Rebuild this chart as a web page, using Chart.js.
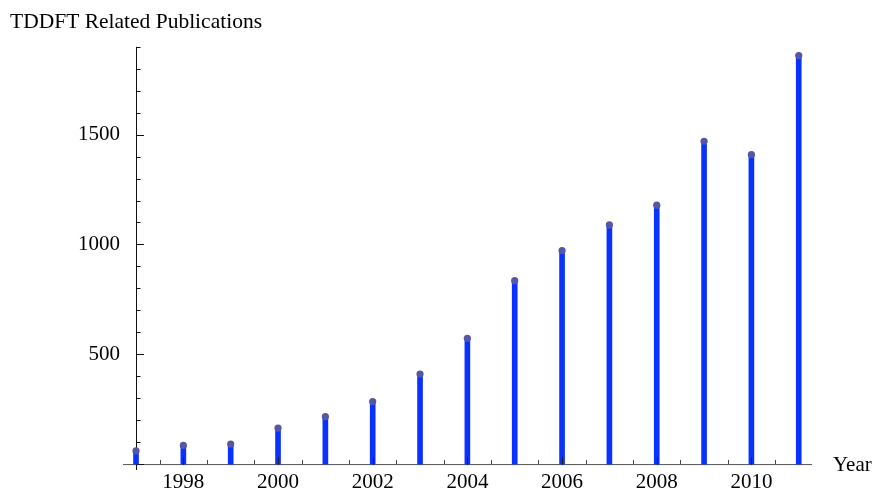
<!DOCTYPE html>
<html>
<head>
<meta charset="utf-8">
<script src="https://cdn.jsdelivr.net/npm/chart.js@4/dist/chart.umd.min.js"></script>
<style>
    html, body { margin: 0; padding: 0; background: #fff; }
    #wrap { width: 874px; height: 489px; }
</style>
</head>
<body>
<div id="wrap"><canvas id="chart"></canvas></div>
<script>
const years = [1997, 1998, 1999, 2000, 2001, 2002, 2003, 2004, 2005, 2006, 2007, 2008, 2009, 2010, 2011];
const publications = [60, 85, 91, 164, 216, 285, 410, 573, 835, 972, 1089, 1179, 1470, 1409, 1860];
const xTickYears = [1998, 2000, 2002, 2004, 2006, 2008, 2010];
const yTickValues = [500, 1000, 1500];

const SERIF = '"Liberation Serif", "DejaVu Serif", serif';
const STEM_COLOR = '#0a32ff';
const DOT_COLOR = '#5656a6';

const points = years.map((year, i) => ({ x: year, y: publications[i] }));

// Mathematica style axes: crossing at (1997, 0), ticks pointing inwards
const axesPlugin = {
    id: 'axes',
    beforeDatasetsDraw(chart) {
        const { ctx, chartArea, scales: { x, y } } = chart;
        const x0 = x.getPixelForValue(1997);
        const y0 = y.getPixelForValue(0);

        ctx.save();
        ctx.lineWidth = 1;

        ctx.strokeStyle = '#555';
        ctx.beginPath();
        ctx.moveTo(chartArea.left, y0 + 0.5);
        ctx.lineTo(chartArea.right, y0 + 0.5);
        ctx.stroke();

        ctx.strokeStyle = '#111';
        ctx.beginPath();
        ctx.moveTo(Math.round(x0) + 0.5, chartArea.top);
        ctx.lineTo(Math.round(x0) + 0.5, chartArea.bottom);
        ctx.stroke();

        // y ticks
        ctx.beginPath();
        for (let v = 0; v <= 1900; v += 100) {
            const py = Math.round(y.getPixelForValue(v)) + 0.5;
            const len = v % 500 === 0 ? 8 : 4.5;
            ctx.moveTo(Math.round(x0), py);
            ctx.lineTo(Math.round(x0) + len, py);
        }
        ctx.stroke();

        // x minor ticks
        ctx.strokeStyle = '#444';
        ctx.beginPath();
        for (let t = 1997.5; t <= 2011; t += 0.5) {
            if (t % 2 === 0) continue;
            const px = Math.round(x.getPixelForValue(t)) + 0.5;
            ctx.moveTo(px, y0);
            ctx.lineTo(px, y0 - 4);
        }
        ctx.stroke();
        ctx.restore();
    },
    afterDatasetsDraw(chart) {
        const { ctx, chartArea, scales: { x, y } } = chart;
        const y0 = y.getPixelForValue(0);

        ctx.save();
        ctx.strokeStyle = '#222';
        ctx.lineWidth = 1;
        ctx.beginPath();
        xTickYears.forEach((t) => {
            const px = Math.round(x.getPixelForValue(t)) + 0.5;
            ctx.moveTo(px, y0 + 1);
            ctx.lineTo(px, y0 - 7);
        });
        ctx.stroke();

        ctx.fillStyle = '#000';
        ctx.font = `21px ${SERIF}`;
        ctx.textBaseline = 'middle';
        ctx.textAlign = 'left';
        ctx.fillText('Year', chartArea.right + 21, y0 + 1);
        ctx.restore();
    }
};

new Chart(document.getElementById('chart'), {
    data: {
        datasets: [
            {
                type: 'scatter',
                data: points,
                pointRadius: 3.6,
                pointHoverRadius: 3.6,
                pointBackgroundColor: DOT_COLOR,
                pointBorderWidth: 0,
                order: 0,
            },
            {
                type: 'bar',
                data: points,
                backgroundColor: STEM_COLOR,
                borderWidth: 0,
                barThickness: 5,
                order: 1,
            },
        ],
    },
    options: {
        responsive: true,
        maintainAspectRatio: false,
        animation: false,
        events: [],
        layout: { padding: { left: 10, right: 62, top: 0, bottom: 0 } },
        plugins: {
            legend: { display: false },
            tooltip: { enabled: false },
            title: {
                display: true,
                text: 'TDDFT Related Publications',
                align: 'start',
                color: '#000',
                font: { family: SERIF, size: 21.5, weight: 'normal' },
                padding: { top: 9, bottom: 12 },
            },
        },
        scales: {
            x: {
                type: 'linear',
                offset: false,
                min: 1996.725,
                max: 2011.28,
                grid: { display: false, offset: false },
                border: { display: false },
                afterBuildTicks: (scale) => {
                    scale.ticks = xTickYears.map((v) => ({ value: v }));
                },
                afterFit: (scale) => { scale.height = 19; },
                ticks: {
                    color: '#000',
                    padding: -8,
                    maxRotation: 0,
                    font: { family: SERIF, size: 21 },
                    callback: (v) => String(v),
                },
            },
            y: {
                type: 'linear',
                min: -27,
                max: 1900,
                grid: { display: false },
                border: { display: false },
                afterBuildTicks: (scale) => {
                    scale.ticks = yTickValues.map((v) => ({ value: v }));
                },
                afterFit: (scale) => { scale.width = 113; },
                ticks: {
                    color: '#000',
                    padding: -5,
                    font: { family: SERIF, size: 21 },
                    callback: (v) => String(v),
                },
            },
        },
    },
    plugins: [axesPlugin],
});
</script>
</body>
</html>
